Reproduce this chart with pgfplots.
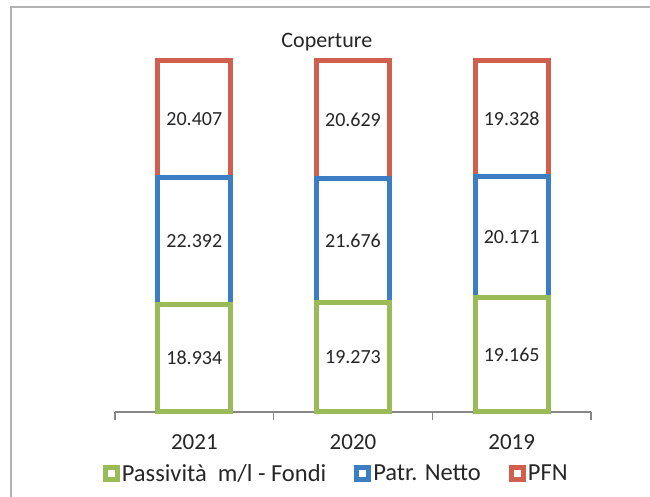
\documentclass[border=0pt]{standalone}
\usepackage{pgfplots}
\pgfplotsset{compat=1.18}
\usepackage{pgfplotstable}
\usepackage{fontspec}
\setmainfont{Carlito}
\definecolor{cG}{HTML}{9BBB59}
\definecolor{cB}{HTML}{3C7DC4}
\definecolor{cR}{HTML}{D0604D}
\definecolor{axgray}{HTML}{868686}
\definecolor{txt}{HTML}{262626}
\pgfplotstableread{
x g b r
0 18934 22392 20407
1 19273 21676 20629
2 19165 20171 19328
}\data
\newcommand{\tot}{(\thisrow{g}+\thisrow{b}+\thisrow{r})}
\begin{document}
\begin{tikzpicture}
\useasboundingbox (0,0) rectangle (650bp,497bp);
\draw[gray!60, line width=1.3bp] (11bp,-10bp) -- (11bp,490bp) -- (660bp,490bp);
\begin{axis}[
  at={(115bp,85bp)}, anchor=south west,
  scale only axis, width=476bp, height=351bp,
  ybar stacked, bar width=0.46,
  xmin=-0.5, xmax=2.5, ymin=0, ymax=100,
  clip=false,
  axis y line=none, axis x line*=bottom,
  x axis line style={axgray, line width=1.3bp, -},
  xtick={0,1,2}, xticklabels={2021,2020,2019},
  major x tick style={draw=none},
  minor xtick={-0.5,0.5,1.5,2.5},
  minor x tick style={axgray, line width=1.3bp},
  xtick align=outside, minor tick length=8bp, major tick length=0pt,
  xticklabel style={font=\fontsize{23bp}{27bp}\selectfont, text=txt, anchor=base, yshift=-38bp},
  title={Coperture},
  title style={at={(0.445,1.022)}, anchor=base, font=\fontsize{22bp}{26bp}\selectfont, text=txt},
  legend style={draw=none, fill=none, at={(-0.026,-0.176)}, anchor=west,
    legend columns=3, font=\fontsize{24.5bp}{28bp}\selectfont, text=txt,
    /tikz/every even column/.append style={column sep=26bp}, inner sep=0pt},
  legend image code/.code={\draw[#1,/tikz/.cd, line width=5bp, fill=white] (0bp,-6bp) rectangle (12bp,6bp);},
]
\addplot[draw=cG, fill=white, line width=5bp] table[x=x, y expr={100*\thisrow{g}/\tot}] {\data};
\addplot[draw=cB, fill=white, line width=5bp] table[x=x, y expr={100*\thisrow{b}/\tot}] {\data};
\addplot[draw=cR, fill=white, line width=5bp] table[x=x, y expr={100*\thisrow{r}/\tot}] {\data};
\legend{Passività\ \ m/l - Fondi, Patr. Netto, PFN}
\end{axis}
\begin{axis}[
  at={(115bp,85bp)}, anchor=south west,
  scale only axis, width=476bp, height=351bp,
  xmin=-0.5, xmax=2.5, ymin=0, ymax=100, hide axis,
  nodes near coords,
  every node near coord/.append style={anchor=center, font=\fontsize{20bp}{24bp}\selectfont, text=txt},
  /pgf/number format/.cd, fixed, precision=0, 1000 sep={.}, assume math mode=true,
]
\addplot[draw=none, point meta=explicit] table[x=x, y expr={50*\thisrow{g}/\tot}, meta=g] {\data};
\addplot[draw=none, point meta=explicit] table[x=x, y expr={100*(\thisrow{g}+0.5*\thisrow{b})/\tot}, meta=b] {\data};
\addplot[draw=none, point meta=explicit] table[x=x, y expr={100*(\thisrow{g}+\thisrow{b}+0.5*\thisrow{r})/\tot}, meta=r] {\data};
\end{axis}
\end{tikzpicture}
\end{document}
